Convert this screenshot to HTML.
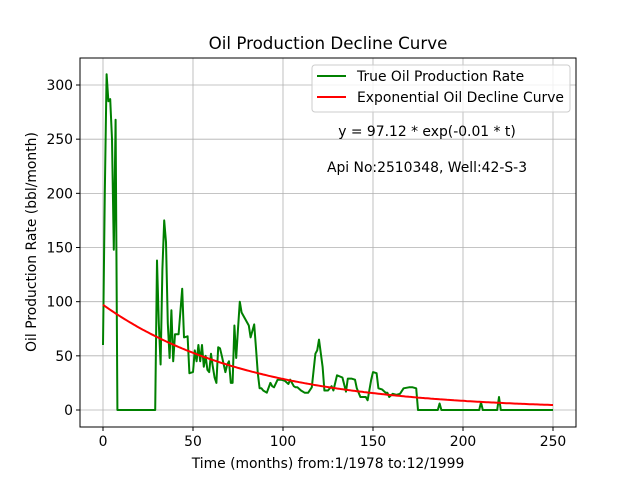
<!DOCTYPE html>
<html><head><meta charset="utf-8"><style>
body{margin:0;background:#fff;}
svg text{font-family:"DejaVu Sans","Liberation Sans",sans-serif;fill:#000;}
</style></head><body>
<svg id="chart" width="640" height="480" viewBox="0 0 640 480" xmlns="http://www.w3.org/2000/svg">
<rect width="640" height="480" fill="#fff"/>
<g id="grid"></g>
<g id="ticks"></g>
<g id="series"></g>
<rect x="80" y="58" width="496" height="369" fill="none" stroke="#000" stroke-width="1"/>
<text x="328" y="49" font-size="16.7" text-anchor="middle">Oil Production Decline Curve</text>
<text x="328" y="468" font-size="13.9" text-anchor="middle">Time (months) from:1/1978 to:12/1999</text>
<text x="36" y="242" font-size="13.9" text-anchor="middle" transform="rotate(-90 36 242)">Oil Production Rate (bbl/month)</text>
<g>
<rect x="312" y="65" width="258" height="47" rx="3" fill="#fff" fill-opacity="0.8" stroke="#ccc"/>
<line x1="317" y1="76" x2="346" y2="76" stroke="green" stroke-width="2"/>
<text x="357" y="81" font-size="13.9">True Oil Production Rate</text>
<line x1="317" y1="97" x2="346" y2="97" stroke="red" stroke-width="2"/>
<text x="357" y="102" font-size="13.9">Exponential Oil Decline Curve</text>
</g>
<text x="427" y="136" font-size="13.9" text-anchor="middle">y = 97.12 * exp(-0.01 * t)</text>
<text x="427" y="172" font-size="13.9" text-anchor="middle">Api No:2510348, Well:42-S-3</text>
</svg>
<script>
const months=[0,1,2,3,4,5,6,7,8,29,30,31,32,33,34,35,36,37,38,39,40,42,44,45,47,48,50,51,52,53,54,55,56,57,58,59,60,61,62,63,64,65,66,68,69,70,71,72,73,74,75,76,77,79,81,82,84,85,86,87,88,89,91,93,94,95,97,99,101,103,104,106,107,108,110,112,114,116,118,119,120,122,123,125,127,128,130,133,135,136,138,140,141,143,146,147,149,150,152,153,155,157,158,159,161,163,165,167,170,172,174,175,176,186,187,188,209,210,211,219,220,221,250];
const rates=[60,200,310,285,287,250,148,268,0,0,138,80,42,130,175,155,80,48,92,45,70,70,112,67,68,34,35,55,45,60,45,60,40,50,37,35,52,40,30,25,58,57,50,35,42,45,25,25,78,48,75,100,90,84,78,67,79,57,34,20,20,18,16,25,22,21,28,28,27,24,28,22,21,21,18,16,16,21,52,55,65,40,18,18,22,18,32,30,17,29,29,28,20,12,12,9,28,35,34,20,19,16,16,12,15,14,15,20,21,21,20,0,0,0,6,0,0,7,0,0,12,0,0];
const fitA=97.12, fitK=0.0122, fitEnd=250;
const yTicks=[0,50,100,150,200,250,300];
const xTicks=[0,50,100,150,200,250];
const NS="http://www.w3.org/2000/svg";
const xs=t=>103+t*1.8;
const ys=v=>410-v*1.0833;
const grid=document.getElementById('grid'),ticks=document.getElementById('ticks'),series=document.getElementById('series');
function mk(tag,attrs,parent){const e=document.createElementNS(NS,tag);for(const k in attrs)e.setAttribute(k,attrs[k]);parent.appendChild(e);return e;}
xTicks.forEach(t=>{
 const x=xs(t);
 const g=mk('line',{x1:x,y1:58,x2:x,y2:427,stroke:'#b0b0b0','stroke-width':0.8},grid);
 
 
 const tk=mk('line',{x1:x,y1:427,x2:x,y2:431,stroke:'#000'},ticks);
 
 
 const tx=mk('text',{x:x,y:446,'font-size':13.9,'text-anchor':'middle'},ticks);
 tx.textContent=t;
 
 
});
yTicks.forEach(v=>{
 const y=ys(v);
 const g=mk('line',{x1:80,y1:y,x2:576,y2:y,stroke:'#b0b0b0','stroke-width':0.8},grid);
 
 
 const tk=mk('line',{x1:76,y1:y,x2:80,y2:y,stroke:'#000'},ticks);
 
 
 const tx=mk('text',{x:73,y:y+5,'font-size':13.9,'text-anchor':'end'},ticks);
 tx.textContent=v;
 
 
});
const pts=months.map((m,i)=>xs(m).toFixed(1)+','+ys(rates[i]).toFixed(1)).join(' ');
const l1=mk('polyline',{points:pts,fill:'none',stroke:'green','stroke-width':2,'stroke-linejoin':'round'},series);


const fp=[];for(let t=0;t<=fitEnd;t++)fp.push(xs(t).toFixed(1)+','+ys(fitA*Math.exp(-fitK*t)).toFixed(1));
const l2=mk('polyline',{points:fp.join(' '),fill:'none',stroke:'red','stroke-width':2},series);


</script>
</body></html>
